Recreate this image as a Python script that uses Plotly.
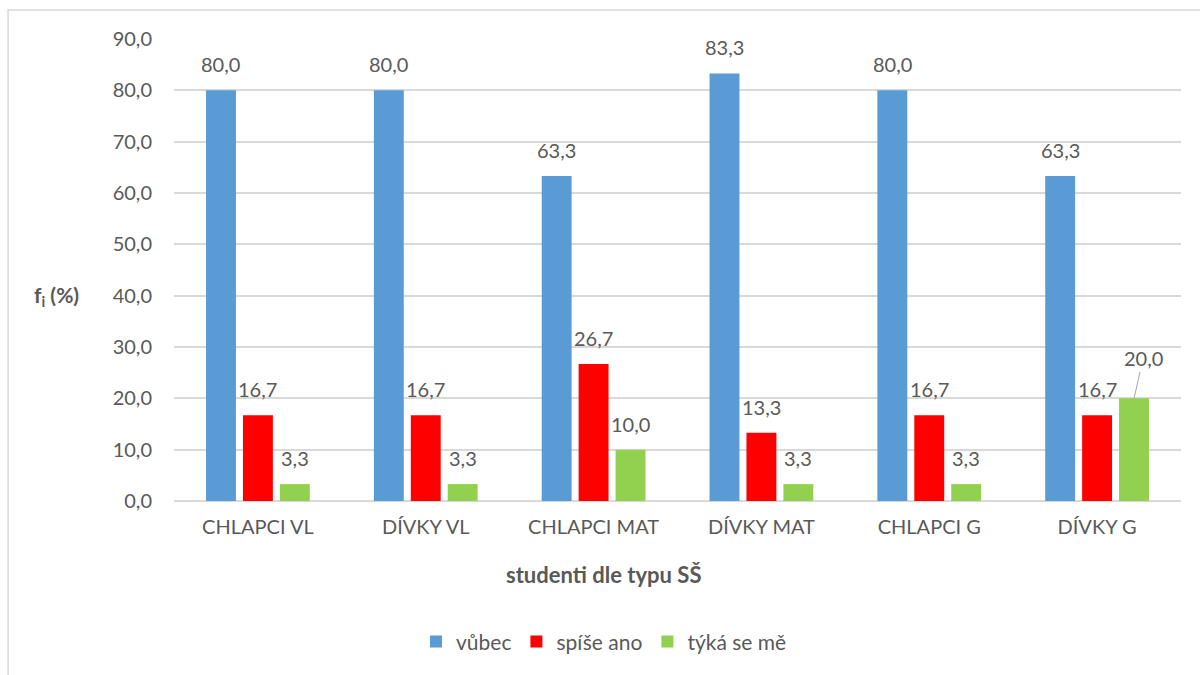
import plotly.graph_objects as go

# Data
categories = ["CHLAPCI VL", "DÍVKY VL", "CHLAPCI MAT", "DÍVKY MAT", "CHLAPCI G", "DÍVKY G"]
vubec = [80.0, 80.0, 63.3, 83.3, 80.0, 63.3]
spise_ano = [16.7, 16.7, 26.7, 13.3, 16.7, 16.7]
tyka_se_me = [3.3, 3.3, 10.0, 3.3, 3.3, 20.0]
y_ticks = [0, 10, 20, 30, 40, 50, 60, 70, 80, 90]

FONT = "Lato"
TEXT = "#595959"
FS = 20


def fmt(v):
    return f"{v:.1f}".replace(".", ",")


fig = go.Figure()

series = [
    ("vůbec", vubec, "#5B9BD5", -37),
    ("spíše ano", spise_ano, "#FF0000", 0),
    ("týká se mě", tyka_se_me, "#92D050", 37),
]

for name, vals, color, shift in series:
    fig.add_trace(go.Bar(
        name=name, x=categories, y=vals, marker_color=color,
        marker_line_width=0,
    ))
    for i, (cat, v) in enumerate(zip(categories, vals)):
        if name == "týká se mě" and i == len(vals) - 1:
            # offset label with a leader line
            fig.add_annotation(
                x=cat, y=v, xref="x", yref="y", xshift=shift,
                text=fmt(v), showarrow=True, arrowhead=0, arrowwidth=1,
                arrowcolor="#A6A6A6", ax=9, ay=-40, standoff=0,
                font=dict(family=FONT, size=FS, color=TEXT),
            )
            continue
        fig.add_annotation(
            x=cat, y=v, xref="x", yref="y", xshift=shift, yshift=12,
            text=fmt(v), showarrow=False, yanchor="bottom",
            font=dict(family=FONT, size=FS, color=TEXT),
        )

# y-axis title
fig.add_annotation(
    x=-0.141, y=0.444, xref="paper", yref="paper",
    text="<b>f<sub>i</sub> (%)</b>", showarrow=False,
    font=dict(family=FONT, size=21, color=TEXT),
)

# x-axis title
fig.add_annotation(
    x=0.427, y=-0.175, xref="paper", yref="paper", yshift=-8,
    text="<b>studenti dle typu SŠ</b>", showarrow=False,
    font=dict(family=FONT, size=22, color=TEXT),
)

# chart area border
fig.add_shape(
    type="rect", xref="paper", yref="paper",
    x0=-0.1648, x1=1.05, y0=-0.5, y1=1.0628,
    line=dict(color="#D9D9D9", width=1.5), fillcolor="rgba(0,0,0,0)",
    layer="below",
)

fig.update_layout(
    width=1200, height=675,
    margin=dict(l=174, r=19, t=39, b=174),
    paper_bgcolor="white", plot_bgcolor="white",
    separators=",.",
    barmode="group", bargap=0.34, bargroupgap=0.19,
    font=dict(family=FONT, size=FS, color=TEXT),
    showlegend=True,
    legend=dict(
        orientation="h", x=0.427, xanchor="center",
        y=-0.305, yanchor="middle",
        font=dict(family=FONT, size=21, color=TEXT),
        itemwidth=30, tracegroupgap=0,
    ),
    xaxis=dict(
        showgrid=False, showline=False, ticks="",
        ticklabelstandoff=12,
        tickfont=dict(family=FONT, size=FS, color=TEXT),
    ),
    yaxis=dict(
        range=[0, 90], tickvals=y_ticks, tickformat=".1f",
        showgrid=True, gridcolor="#D9D9D9", gridwidth=1.5,
        zeroline=True, zerolinecolor="#D9D9D9", zerolinewidth=1.5,
        showline=False, ticks="", ticklabelstandoff=21,
        tickfont=dict(family=FONT, size=FS, color=TEXT),
    ),
)

fig.write_html("out.html")
